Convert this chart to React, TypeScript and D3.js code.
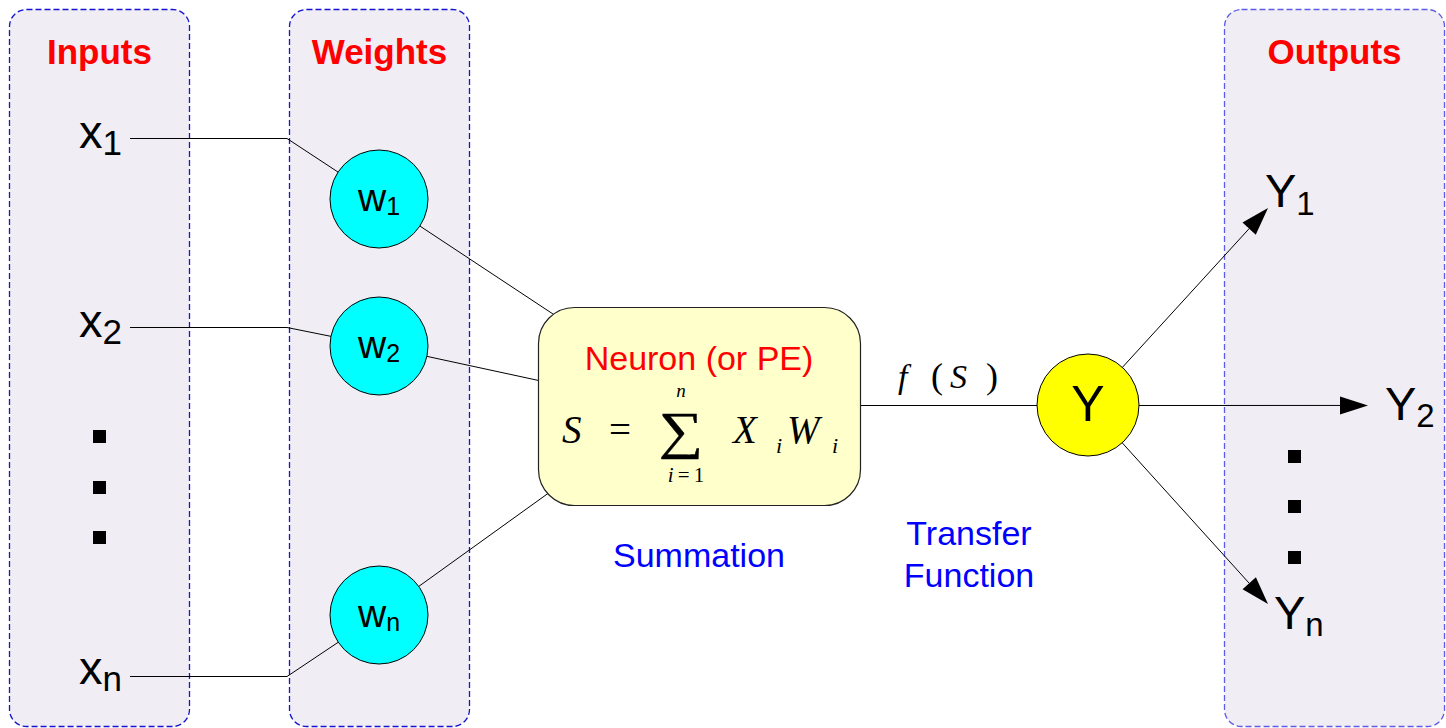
import React, { useEffect, useRef } from 'react';
import * as d3 from 'd3';

// labels / text content
const panelTitles = ['Inputs', 'Weights', 'Outputs'];
const inputSubs = ['1', '2', 'n'];
const weightSubs = ['1', '2', 'n'];
const outputSubs = ['1', '2', 'n'];
const neuronTitle = 'Neuron (or PE)';
const captions = ['Summation', 'Transfer', 'Function'];

// layout (pixels)
const W = 1446;
const H = 728;
const panels = [
  { x: 9.5, w: 180, stroke: '#1414d2' },
  { x: 289.5, w: 180, stroke: '#1414d2' },
  { x: 1224.5, w: 220, stroke: '#5c5ce6' },
];
const inputLineY = [138.5, 327.5, 676.5];
const inputBaseY = [148, 337, 684];
const weightCY = [199, 346, 615];
const weightTargets: [number, number][] = [
  [556, 316],
  [541, 381],
  [550, 492],
];
const yCenter: [number, number] = [1088, 405];
const outputTips: [number, number][] = [
  [1268, 208],
  [1368, 405.5],
  [1268, 604],
];
const outputLabelPos = [
  { x: 1265, y: 207, dy: 8 },
  { x: 1385, y: 420, dy: 7 },
  { x: 1274, y: 629, dy: 7 },
];
const leftDotsY = [430, 481, 531];
const rightDotsY = [450, 500, 551];

const SANS = '"Liberation Sans", Arial, Helvetica, sans-serif';
const SERIF = '"Liberation Serif", "Times New Roman", serif';

const App = () => {
  const ref = useRef<SVGSVGElement | null>(null);

  useEffect(() => {
    if (!ref.current) return;
    const svg = d3.select(ref.current);
    svg.selectAll('*').remove();
    const line = d3.line();

    // panels
    svg
      .selectAll('rect.panel')
      .data(panels)
      .enter()
      .append('rect')
      .attr('class', 'panel')
      .attr('x', (d) => d.x)
      .attr('y', 9.5)
      .attr('width', (d) => d.w)
      .attr('height', 717)
      .attr('rx', 17)
      .attr('fill', '#f0eef4')
      .attr('stroke', (d) => d.stroke)
      .attr('stroke-width', 1.3)
      .attr('stroke-dasharray', '6,3');

    svg
      .selectAll('text.title')
      .data(panelTitles)
      .enter()
      .append('text')
      .attr('class', 'title')
      .attr('x', (d, i) => panels[i].x + panels[i].w / 2)
      .attr('y', 64)
      .attr('text-anchor', 'middle')
      .attr('font-family', SANS)
      .attr('font-weight', 'bold')
      .attr('font-size', 35)
      .attr('fill', '#ff0000')
      .text((d) => d);

    // input -> weight lines
    inputSubs.forEach((s, i) => {
      svg
        .append('path')
        .attr(
          'd',
          line([
            [130, inputLineY[i]],
            [287, inputLineY[i]],
            [379, weightCY[i]],
          ])
        )
        .attr('fill', 'none')
        .attr('stroke', '#000')
        .attr('stroke-width', 1);
    });

    // weight -> neuron lines
    weightSubs.forEach((s, i) => {
      svg
        .append('path')
        .attr('d', line([[379, weightCY[i]], weightTargets[i]]))
        .attr('stroke', '#000')
        .attr('stroke-width', 1);
    });

    // neuron -> Y line
    svg
      .append('path')
      .attr('d', line([[860, 405.5], [yCenter[0], 405.5]]))
      .attr('stroke', '#000')
      .attr('stroke-width', 1.2);

    // output arrows
    outputTips.forEach((tip) => {
      const [tx, ty] = tip;
      const a = Math.atan2(ty - yCenter[1], tx - yCenter[0]);
      const L = 28;
      const hw = 9;
      const bx = tx - L * Math.cos(a);
      const by = ty - L * Math.sin(a);
      svg
        .append('path')
        .attr('d', line([[yCenter[0], ty === 405.5 ? 405.5 : yCenter[1]], [bx, by]]))
        .attr('stroke', '#000')
        .attr('stroke-width', 1);
      svg
        .append('path')
        .attr(
          'd',
          line([
            [tx, ty],
            [bx + hw * Math.sin(a), by - hw * Math.cos(a)],
            [bx - hw * Math.sin(a), by + hw * Math.cos(a)],
          ]) + 'Z'
        )
        .attr('fill', '#000');
    });

    // input labels
    inputSubs.forEach((s, i) => {
      const t = svg
        .append('text')
        .attr('x', 79)
        .attr('y', inputBaseY[i])
        .attr('font-family', SANS)
        .attr('fill', '#000');
      t.append('tspan').attr('font-size', 47).text('x');
      t.append('tspan').attr('font-size', 35).attr('dy', 7).text(s);
    });

    // dots
    svg
      .selectAll('rect.ldot')
      .data(leftDotsY)
      .enter()
      .append('rect')
      .attr('x', 93)
      .attr('y', (d) => d)
      .attr('width', 13)
      .attr('height', 13)
      .attr('fill', '#000');
    svg
      .selectAll('rect.rdot')
      .data(rightDotsY)
      .enter()
      .append('rect')
      .attr('x', 1288)
      .attr('y', (d) => d)
      .attr('width', 13)
      .attr('height', 13)
      .attr('fill', '#000');

    // weight circles
    weightSubs.forEach((s, i) => {
      svg
        .append('circle')
        .attr('cx', 379)
        .attr('cy', weightCY[i])
        .attr('r', 49)
        .attr('fill', '#00ffff')
        .attr('stroke', '#000')
        .attr('stroke-width', 1);
      const t = svg
        .append('text')
        .attr('x', 379)
        .attr('y', weightCY[i] + 12)
        .attr('text-anchor', 'middle')
        .attr('font-family', SANS)
        .attr('fill', '#000');
      t.append('tspan').attr('font-size', 39).text('w');
      t.append('tspan').attr('font-size', 25).attr('dy', 4).text(s);
    });

    // neuron box
    svg
      .append('rect')
      .attr('x', 538.5)
      .attr('y', 307.5)
      .attr('width', 322)
      .attr('height', 198)
      .attr('rx', 36)
      .attr('fill', '#ffffcc')
      .attr('stroke', '#222')
      .attr('stroke-width', 1.2);

    svg
      .append('text')
      .attr('x', 699)
      .attr('y', 370)
      .attr('text-anchor', 'middle')
      .attr('font-family', SANS)
      .attr('font-size', 34)
      .attr('fill', '#ff0000')
      .text(neuronTitle);

    // formula
    const math = (x: number, y: number, size: number, txt: string, italic = true, anchor = 'start') =>
      svg
        .append('text')
        .attr('x', x)
        .attr('y', y)
        .attr('font-family', SERIF)
        .attr('font-style', italic ? 'italic' : 'normal')
        .attr('font-size', size)
        .attr('text-anchor', anchor)
        .attr('fill', '#000')
        .text(txt);

    math(562, 443, 39, 'S');
    math(609, 443, 39, '=', false);
    math(0, 0, 52, '\u2211', false, 'middle')
      .attr('transform', 'translate(681,448) scale(1.2,1)')
      .attr('stroke', '#000')
      .attr('stroke-width', 0.4);
    math(681, 397, 19, 'n', true, 'middle');
    const lim = svg
      .append('text')
      .attr('x', 686)
      .attr('y', 482)
      .attr('text-anchor', 'middle')
      .attr('font-family', SERIF)
      .attr('font-size', 21)
      .attr('fill', '#000');
    lim.append('tspan').attr('font-style', 'italic').text('i');
    lim.append('tspan').text('\u2009=\u20091');
    math(733, 443, 39, 'X');
    math(776, 453, 22, 'i');
    math(787, 443, 39, 'W');
    math(832, 453, 22, 'i');

    // f(S)
    math(898, 388, 34, 'f');
    math(931, 388, 36, '(', false);
    math(950, 388, 34, 'S');
    math(986, 388, 36, ')', false);

    // Y circle
    svg
      .append('circle')
      .attr('cx', yCenter[0])
      .attr('cy', yCenter[1])
      .attr('r', 51)
      .attr('fill', '#ffff00')
      .attr('stroke', '#000')
      .attr('stroke-width', 1);
    svg
      .append('text')
      .attr('x', yCenter[0])
      .attr('y', 421)
      .attr('text-anchor', 'middle')
      .attr('font-family', SANS)
      .attr('font-size', 50)
      .attr('fill', '#000')
      .text('Y');

    // output labels
    outputSubs.forEach((s, i) => {
      const p = outputLabelPos[i];
      const t = svg
        .append('text')
        .attr('x', p.x)
        .attr('y', p.y)
        .attr('font-family', SANS)
        .attr('fill', '#000');
      t.append('tspan').attr('font-size', 47).text('Y');
      t.append('tspan').attr('font-size', 33).attr('dy', p.dy).text(s);
    });

    // captions
    svg
      .append('text')
      .attr('x', 699)
      .attr('y', 567)
      .attr('text-anchor', 'middle')
      .attr('font-family', SANS)
      .attr('font-size', 34)
      .attr('fill', '#0000ff')
      .text(captions[0]);
    [captions[1], captions[2]].forEach((c, i) => {
      svg
        .append('text')
        .attr('x', 969)
        .attr('y', 545 + i * 42)
        .attr('text-anchor', 'middle')
        .attr('font-family', SANS)
        .attr('font-size', 34)
        .attr('fill', '#0000ff')
        .text(c);
    });
  }, []);

  return (
    <div>
      <style>{'body{margin:0;background:#fff}'}</style>
      <svg width={W} height={H} ref={ref} style={{ display: 'block' }} />
    </div>
  );
};

export default App;
